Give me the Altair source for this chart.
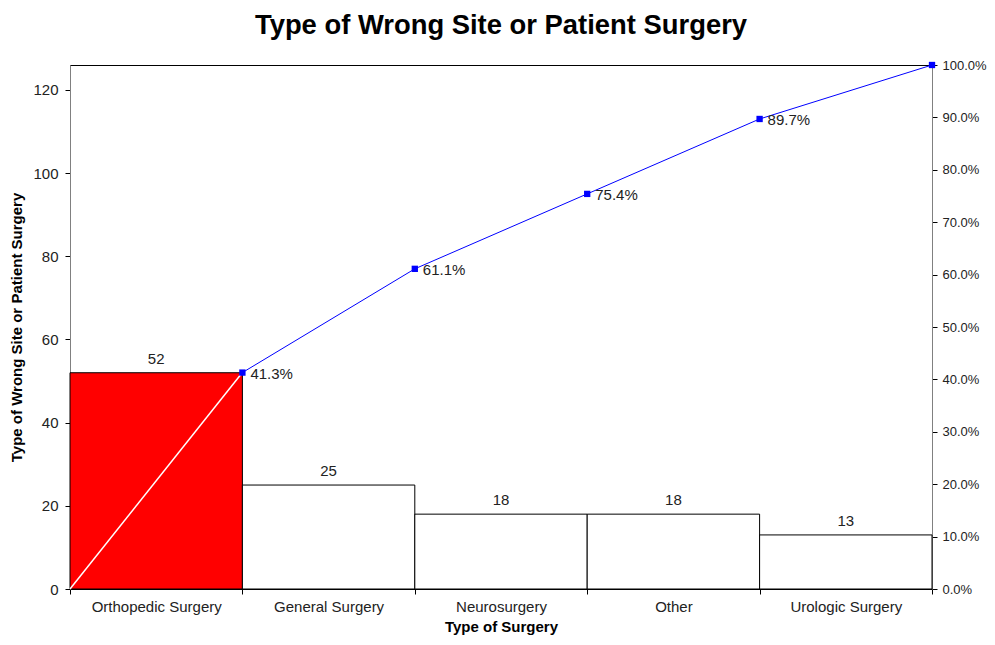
import altair as alt
import pandas as pd

categories = ["Orthopedic Surgery", "General Surgery", "Neurosurgery", "Other", "Urologic Surgery"]
counts = [52, 25, 18, 18, 13]
highlight = ["Orthopedic Surgery"]
cum_labels = [0.413, 0.611, 0.754, 0.897, 1.0]
boundaries = [0, 1, 2, 3, 4, 5]
cum_line = [0.0] + cum_labels

FONT = "Liberation Sans"

bars_df = pd.DataFrame({"category": categories, "count": counts})
line_df = pd.DataFrame({"pos": boundaries, "pct": cum_line})
line_df["labelled"] = [False, True, True, True, True, False]

x_band = alt.X("category:N", sort=categories,
               scale=alt.Scale(paddingInner=0, paddingOuter=0),
               axis=alt.Axis(title="Type of Surgery", labelAngle=0, tickBand="extent",
                             tickSize=5, labelPadding=5, titlePadding=5,
                             labelFontSize=15,
                             domainColor="#000000", tickColor="#000000"))
y_count = alt.Y("count:Q", scale=alt.Scale(domain=[0, 126], nice=False, zero=True),
                axis=alt.Axis(title="Type of Wrong Site or Patient Surgery", orient="left",
                              values=[0, 20, 40, 60, 80, 100, 120], tickSize=5,
                              labelFontSize=15,
                              labelPadding=7, titlePadding=8, grid=False,
                              domainColor="#808080", tickColor="#000000"))

bars = alt.Chart(bars_df).mark_bar(stroke="black", strokeWidth=1).encode(
    x=x_band,
    y=y_count,
    color=alt.condition(alt.FieldOneOfPredicate(field="category", oneOf=highlight),
                        alt.value("#ff0000"), alt.value("#ffffff")),
)
bar_text = alt.Chart(bars_df).mark_text(baseline="alphabetic", dy=-9, font=FONT, fontSize=15,
                                        color="#222222").encode(
    x=alt.X("category:N", sort=categories),
    y="count:Q",
    text="count:Q",
)
bar_layer = alt.layer(bars, bar_text)

x_pos = alt.X("pos:Q", scale=alt.Scale(domain=[0, 5], nice=False, zero=True), axis=None)
y_pct = alt.Y("pct:Q", scale=alt.Scale(domain=[0, 1], nice=False),
              axis=alt.Axis(title=None, orient="right", format=".1%",
                            values=[i / 10 for i in range(11)], tickSize=5,
                            labelFontSize=13,
                            labelPadding=5, grid=False,
                            domainColor="#808080", tickColor="#000000"))

base_line = alt.Chart(line_df)
white_seg = base_line.mark_line(color="#ffffff", strokeWidth=1.5).encode(
    x=x_pos, y=y_pct).transform_filter(alt.datum.pos <= 1)
blue_seg = base_line.mark_line(color="#0000ff", strokeWidth=1).encode(
    x=x_pos, y=y_pct).transform_filter(alt.datum.pos >= 1)
pts = base_line.mark_point(shape="square", filled=True, size=40, color="#0000ff",
                           opacity=1).encode(
    x=x_pos, y=y_pct).transform_filter(alt.datum.pos >= 1)
pct_text = base_line.mark_text(align="left", baseline="middle", dx=8, dy=1, font=FONT,
                               fontSize=15, color="#222222").encode(
    x=x_pos, y=y_pct, text=alt.Text("pct:Q", format=".1%")
).transform_filter(alt.datum.labelled)
line_layer = alt.layer(white_seg, blue_seg, pts, pct_text)

chart = alt.layer(bar_layer, line_layer).resolve_scale(
    x="independent", y="independent"
).properties(
    width=862, height=524,
    title=alt.TitleParams("Type of Wrong Site or Patient Surgery", font=FONT, fontSize=27.4,
                          fontWeight="bold", color="#000000", offset=20),
    padding={"left": 1, "top": 3, "right": 0, "bottom": 2},
).configure_axis(
    labelFont=FONT, labelColor="#222222",
    titleFont=FONT, titleFontSize=15, titleFontWeight="bold", titleColor="#000000",
).configure_view(stroke="#000000", strokeWidth=1)

chart.save("out.html", embed_options={"renderer": "svg", "actions": False})
